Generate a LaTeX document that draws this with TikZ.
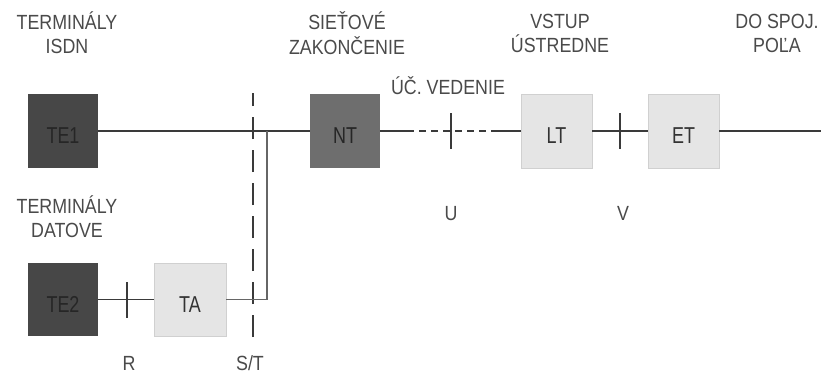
\documentclass[tikz,border=0pt]{standalone}
\usepackage{fontspec}
\setmainfont[FakeStretch=0.87]{Liberation Sans}
\newfontfamily\unitfont[FakeStretch=0.78]{Liberation Sans}
\definecolor{boxdark}{HTML}{474747}
\definecolor{boxmid}{HTML}{6E6E6E}
\definecolor{boxlight}{HTML}{E5E5E5}
\definecolor{boxedge}{HTML}{D0D0D0}
\definecolor{wire}{HTML}{3A3A3A}
\definecolor{captxt}{HTML}{4A4A4A}
\begin{document}
\begin{tikzpicture}[x=1pt,y=-1pt,
  lbl/.style={font=\fontsize{20.5}{24}\selectfont, text=captxt, inner sep=0pt, anchor=base},
  inlbl/.style={font=\unitfont\fontsize{23}{26}\selectfont, text=#1, inner sep=0pt, yshift=-5pt},
  unit/.style={minimum width=70pt, minimum height=74pt, inner sep=0pt},
  darkunit/.style={unit, fill=boxdark, label={[inlbl=black!85]center:#1}},
  midunit/.style={unit, fill=boxmid, label={[inlbl=black!85]center:#1}},
  lightunit/.style={unit, fill=boxlight, draw=boxedge, line width=0.8pt, label={[inlbl=black!80]center:#1}},
  wireline/.style={draw=wire, line width=1.6pt},
  feed/.style={draw=black!60, line width=1.4pt},
  tick/.style={draw=wire, line width=2pt},
  refline/.style={draw=wire, line width=2pt, dash pattern=on 22pt off 11pt},
  dotline/.style={draw=wire, line width=1.6pt, dash pattern=on 7pt off 5pt}]
\useasboundingbox (0,0) rectangle (821,378);

% functional blocks
\node[darkunit=TE1] (te1) at (63,131) {};
\node[midunit=NT] (nt) at (345,131) {};
\node[lightunit=LT, minimum width=71pt] (lt) at (556.5,131) {};
\node[lightunit=ET, minimum width=71pt] (et) at (683.5,131) {};
\node[darkunit=TE2, minimum height=73pt] (te2) at (63,299.5) {};
\node[lightunit=TA, minimum width=72pt, minimum height=73pt] (ta) at (190,299.5) {};

% auxiliary points on the lines
\coordinate (jn) at (267,131);
\coordinate (ua) at (407,131);
\coordinate (ub) at (495,131);
\coordinate (out) at (821,131);
\coordinate (rpt) at (127,300);
\coordinate (upt) at (451,131);
\coordinate (vpt) at (620,131);
\coordinate (sttop) at (253,93);
\coordinate (stbot) at (253,337);

% S/T reference line
\draw[refline] (stbot) -- (sttop);

% connections
\draw[wireline] (te1.east) -- (nt.west);
\draw[wireline] (te2.east) -- (ta.west);
\draw[feed] (ta.east) -| (jn);
\draw[wireline] (nt.east) -- (ua);
\draw[dotline] (ua) -- (ub);
\draw[wireline] (ub) -- (lt.west);
\draw[wireline] (lt.east) -- (et.west);
\draw[wireline] (et.east) -- (out);

% reference point ticks
\draw[tick] ([yshift=18pt]rpt) -- ([yshift=-18pt]rpt);
\draw[tick] ([yshift=18pt]upt) -- ([yshift=-18pt]upt);
\draw[tick] ([yshift=18pt]vpt) -- ([yshift=-18pt]vpt);

% captions
\node[lbl] (c1a) at (67,29) {TERMINÁLY};
\node[lbl] (c1b) at (67,53) {ISDN};
\node[lbl] (c2a) at (347,29) {SIEŤOVÉ};
\node[lbl] (c2b) at (347,54) {ZAKONČENIE};
\node[lbl] (c3a) at (560,28) {VSTUP};
\node[lbl] (c3b) at (560,52) {ÚSTREDNE};
\node[lbl] (c4a) at (777,28) {DO SPOJ.};
\node[lbl] (c4b) at (777,52) {POĽA};
\node[lbl] (c5) at (448,94) {ÚČ. VEDENIE};
\node[lbl] (c6a) at (67,213) {TERMINÁLY};
\node[lbl] (c6b) at (67,237) {DATOVE};
\node[lbl] (pu) at (451,220) {U};
\node[lbl] (pv) at (623,220) {V};
\node[lbl] (pr) at (129,370) {R};
\node[lbl] (pst) at (250,370) {S/T};
\end{tikzpicture}
\end{document}
